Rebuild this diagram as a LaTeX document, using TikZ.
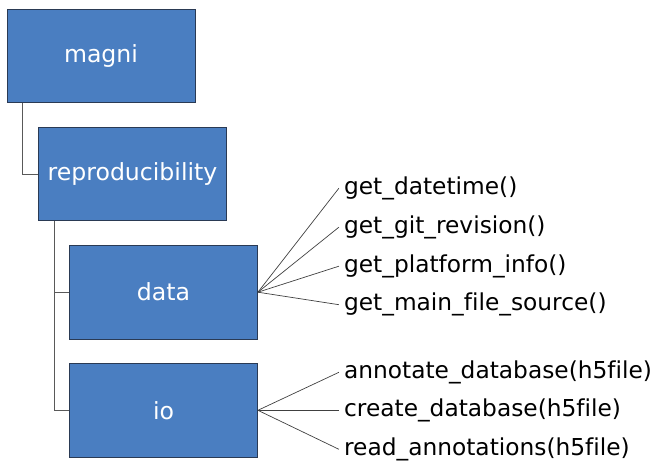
\documentclass[tikz,border=0pt]{standalone}
\usepackage{fontspec}
\setmainfont{DejaVu Sans}[Ligatures=NoCommon]
\usepackage{xcolor}
\usetikzlibrary{positioning}

\definecolor{boxblue}{RGB}{74,126,193}
\definecolor{boxline}{RGB}{42,58,84}

\begin{document}
\begin{tikzpicture}[x=1pt, y=1pt, node distance=23.7pt,
    box/.style={draw=boxline, line width=0.8pt, fill=boxblue, minimum width=188pt, minimum height=93.6pt, text=white, font=\fontsize{23.6}{28}\selectfont},
    fn/.style={font=\fontsize{23.3}{28}\selectfont, inner xsep=5pt, inner ysep=0pt},
    tree/.style={draw=black!65, line width=0.8pt},
    fan/.style={draw=black!75, line width=0.7pt}]
        \useasboundingbox (0,0) rectangle (655,-462);

        % Package tree
        \node[box] (magni) at (101,-56) {magni};
        \node[box, below=of magni, xshift=31.5pt] (repro) {reproducibility};
        \node[box, below=of repro, xshift=31pt] (data) {data};
        \node[box, below=of data] (io) {io};

        \draw[tree] ([xshift=15.5pt]magni.south west) |- (repro.west);
        \draw[tree] ([xshift=16pt]repro.south west) |- (data.west);
        \draw[tree] ([xshift=16pt]repro.south west) |- (io.west);

        % Functions in data
        \node[fn, right=81pt of data.east, yshift=104pt] (datetime) {get\_datetime()};
        \node[fn, right=81pt of data.east, yshift=65pt] (gitrev) {get\_git\_revision()};
        \node[fn, right=81pt of data.east, yshift=26pt] (platform) {get\_platform\_info()};
        \node[fn, right=81pt of data.east, yshift=-12.5pt] (mainsrc) {get\_main\_file\_source()};

        % Functions in io
        \node[fn, right=81pt of io.east, yshift=38pt] (annotate) {annotate\_database(h5file)};
        \node[fn, right=81pt of io.east] (create) {create\_database(h5file)};
        \node[fn, right=81pt of io.east, yshift=-39pt] (readann) {read\_annotations(h5file)};

        % Fan lines
        \draw[fan] (data.east) -- (datetime.west);
        \draw[fan] (data.east) -- (gitrev.west);
        \draw[fan] (data.east) -- (platform.west);
        \draw[fan] (data.east) -- (mainsrc.west);
        \draw[fan] (io.east) -- (annotate.west);
        \draw[fan] (io.east) -- (create.west);
        \draw[fan] (io.east) -- (readann.west);
\end{tikzpicture}
\end{document}
